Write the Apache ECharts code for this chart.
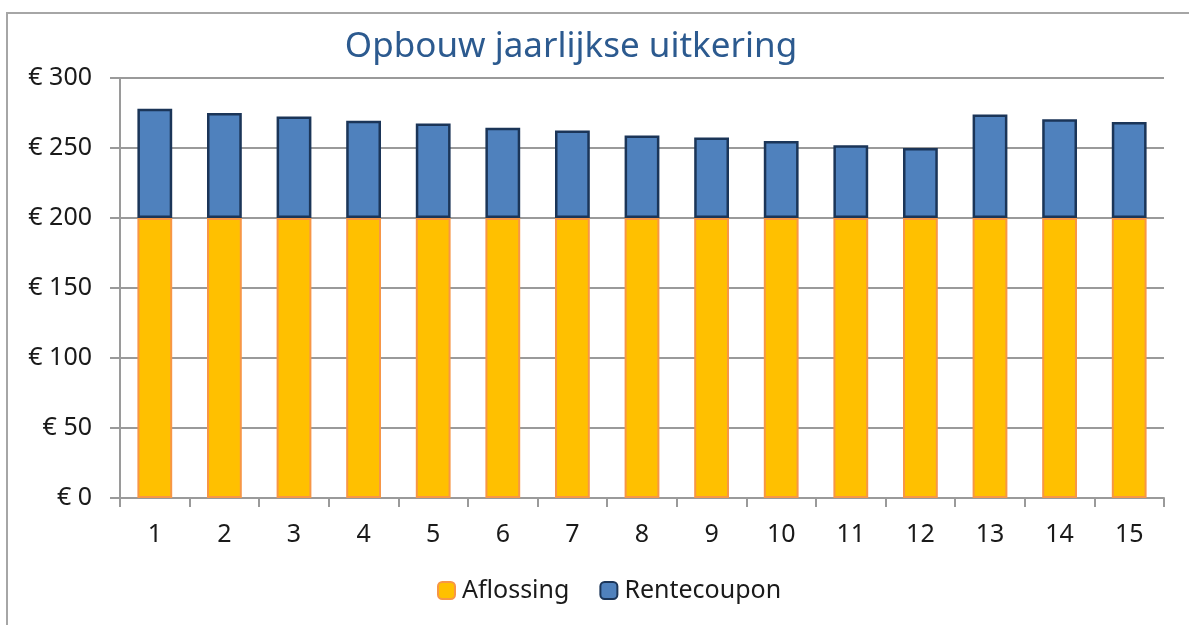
<!DOCTYPE html>
<html>
<head>
<meta charset="utf-8">
<script src="https://cdn.jsdelivr.net/npm/echarts@6/dist/echarts.min.js"></script>
<style>
  html, body { margin: 0; padding: 0; background: #fff; }
  #chart { width: 1189px; height: 625px; }
</style>
</head>
<body>
<div id="chart"></div>
<script>
// jaren 1..15
var jaren = ['1', '2', '3', '4', '5', '6', '7', '8', '9', '10', '11', '12', '13', '14', '15'];
// aflossing is elk jaar gelijk
var aflossing = [200, 200, 200, 200, 200, 200, 200, 200, 200, 200, 200, 200, 200, 200, 200];
var rentecoupon = [78, 75, 72.5, 69.5, 67.5, 64.5, 62.5, 59, 57.5, 55, 52, 50, 74, 70.5, 68.5];
var yTicks = [0, 50, 100, 150, 200, 250, 300];

var font = 'Noto Sans';
var myChart = echarts.init(document.getElementById('chart'));

var option = {
    animation: false,
    textStyle: { fontFamily: font },
    title: {
        text: 'Opbouw jaarlijkse uitkering',
        left: 566,
        top: 25,
        textAlign: 'center',
        textStyle: { color: '#2C5A8F', fontSize: 35, fontWeight: 'normal', fontFamily: font }
    },
    legend: {
        data: ['Aflossing', 'Rentecoupon'],
        left: 432,
        top: 573,
        padding: 5,
        itemWidth: 17,
        itemHeight: 17,
        itemGap: 30,
        textStyle: { fontSize: 25, color: '#1a1a1a', fontFamily: font, padding: [0, 0, 0, 2] }
    },
    grid: {
        left: 120,
        right: 25,
        top: 78,
        bottom: 127,
        containLabel: false
    },
    xAxis: {
        type: 'category',
        data: jaren,
        axisLine: { lineStyle: { color: '#9a9a9a', width: 2 } },
        axisTick: { show: true, length: 9, alignWithLabel: false, lineStyle: { color: '#9a9a9a', width: 2 } },
        axisLabel: { fontSize: 25, color: '#1a1a1a', margin: 24 }
    },
    yAxis: {
        type: 'value',
        min: yTicks[0],
        max: yTicks[yTicks.length - 1],
        interval: 50,
        axisLine: { show: true, lineStyle: { color: '#9a9a9a', width: 2 } },
        axisTick: { show: true, length: 10, lineStyle: { color: '#9a9a9a', width: 2 } },
        splitLine: { lineStyle: { color: '#9a9a9a', width: 2 } },
        axisLabel: {
            fontSize: 25,
            color: '#1a1a1a',
            margin: 28,
            formatter: function (v) { return '€ ' + v; }
        }
    },
    graphic: [{
        type: 'polyline',
        shape: { points: [[7, 625], [7, 13], [1189, 13]] },
        style: { stroke: '#a6a6a6', lineWidth: 2, fill: null },
        silent: true
    }],
    series: [{
            name: 'Aflossing',
            type: 'bar',
            stack: 'totaal',
            barWidth: '50%',
            data: aflossing,
            itemStyle: { color: '#FFC000', borderColor: '#F79646', borderWidth: 2 }
        },
        {
            name: 'Rentecoupon',
            type: 'bar',
            stack: 'totaal',
            barWidth: '50%',
            data: rentecoupon,
            itemStyle: { color: '#4F81BD', borderColor: '#1B3558', borderWidth: 2.5 }
        }
    ]
};
myChart.setOption(option);
</script>
</body>
</html>
